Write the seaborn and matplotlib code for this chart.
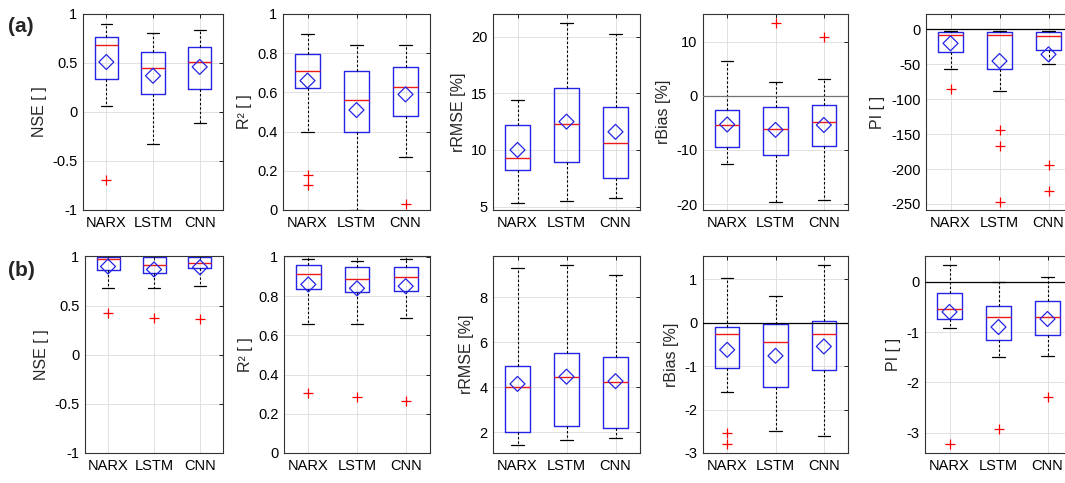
import numpy as np
import pandas as pd
import matplotlib
matplotlib.use("Agg")
import matplotlib.pyplot as plt
import seaborn as sns
from matplotlib.ticker import FormatStrFormatter

models = ["NARX", "LSTM", "CNN"]

# box statistics per model: [lower whisker, Q1, median, Q3, upper whisker]
# ---- row (a)
nse_a_box = [[0.06, 0.34, 0.68, 0.77, 0.90], [-0.33, 0.18, 0.45, 0.61, 0.81], [-0.11, 0.23, 0.51, 0.66, 0.84]]
nse_a_mean = [0.51, 0.37, 0.46]
nse_a_out = [[-0.69], [], []]

r2_a_box = [[0.40, 0.62, 0.71, 0.795, 0.90], [0.0, 0.40, 0.56, 0.71, 0.84], [0.27, 0.48, 0.63, 0.73, 0.84]]
r2_a_mean = [0.66, 0.51, 0.59]
r2_a_out = [[0.18, 0.13], [], [0.03]]

rrmse_a_box = [[5.3, 8.25, 9.3, 12.2, 14.45], [5.5, 8.95, 12.3, 15.45, 21.2], [5.8, 7.5, 10.6, 13.75, 20.25]]
rrmse_a_mean = [10.0, 12.5, 11.6]
rrmse_a_out = [[], [], []]

rbias_a_box = [[-12.6, -9.4, -5.4, -2.6, 6.4], [-19.7, -10.9, -6.2, -2.1, 2.6], [-19.3, -9.2, -4.8, -1.7, 3.1]]
rbias_a_mean = [-5.3, -6.3, -5.4]
rbias_a_out = [[], [13.5], [10.8]]

pi_a_box = [[-56.8, -32.0, -8.0, -3.5, -2.0], [-87.8, -56.8, -8.5, -3.5, -2.0], [-50.1, -29.6, -9.5, -3.5, -2.0]]
pi_a_mean = [-20.0, -45.3, -35.8]
pi_a_out = [[-85.9], [-144.6, -167.0, -247.0], [-194.0, -231.0]]

# ---- row (b)
nse_b_box = [[0.676, 0.858, 0.975, 0.995, 1.0], [0.676, 0.827, 0.909, 0.99, 1.0], [0.695, 0.885, 0.932, 0.99, 1.0]]
nse_b_mean = [0.898, 0.868, 0.89]
nse_b_out = [[0.42], [0.37], [0.36]]

r2_b_box = [[0.659, 0.836, 0.912, 0.961, 0.988], [0.659, 0.819, 0.89, 0.949, 0.98], [0.689, 0.826, 0.899, 0.949, 0.988]]
r2_b_mean = [0.86, 0.84, 0.851]
r2_b_out = [[0.307], [0.287], [0.265]]

rrmse_b_box = [[1.45, 2.0, 4.0, 4.96, 9.3], [1.67, 2.29, 4.47, 5.51, 9.43], [1.75, 2.19, 4.22, 5.36, 8.98]]
rrmse_b_mean = [4.15, 4.47, 4.27]
rrmse_b_out = [[], [], []]

rbias_b_box = [[-1.6, -1.05, -0.27, -0.107, 1.02], [-2.49, -1.48, -0.45, -0.04, 0.6], [-2.6, -1.1, -0.275, 0.04, 1.32]]
rbias_b_mean = [-0.627, -0.765, -0.55]
rbias_b_out = [[-2.54, -2.8], [], []]

pi_b_box = [[-0.92, -0.745, -0.54, -0.23, 0.33], [-1.5, -1.15, -0.71, -0.49, 0.0], [-1.48, -1.05, -0.71, -0.375, 0.1]]
pi_b_mean = [-0.6, -0.9, -0.74]
pi_b_out = [[-3.23], [-2.93], [-2.29]]

ylabels = ["NSE [ ]", "R\u00b2 [ ]", "rRMSE [%]", "rBias [%]", "PI [ ]"]
row_labels = ["(a)", "(b)"]

sns.set_style("white")
plt.rcParams["font.family"] = ["Liberation Sans", "DejaVu Sans"]
plt.rcParams["axes.unicode_minus"] = False

BLUE = "#2424e6"
RED = "#ee1a1a"

W, H = 1065, 483
fig = plt.figure(figsize=(W / 100, H / 100), dpi=100)

panels = [
    # row a
    dict(box=nse_a_box, mean=nse_a_mean, out=nse_a_out, ylim=(-1, 1), ticks=[-1, -0.5, 0, 0.5, 1], zero=None),
    dict(box=r2_a_box, mean=r2_a_mean, out=r2_a_out, ylim=(0, 1), ticks=[0, 0.2, 0.4, 0.6, 0.8, 1], zero=None),
    dict(box=rrmse_a_box, mean=rrmse_a_mean, out=rrmse_a_out, ylim=(4.7, 22), ticks=[5, 10, 15, 20], zero=None),
    dict(box=rbias_a_box, mean=rbias_a_mean, out=rbias_a_out, ylim=(-21.1, 15.1), ticks=[-20, -10, 0, 10], zero="0.45"),
    dict(box=pi_a_box, mean=pi_a_mean, out=pi_a_out, ylim=(-258.6, 22), ticks=[-250, -200, -150, -100, -50, 0], zero="black"),
    # row b
    dict(box=nse_b_box, mean=nse_b_mean, out=nse_b_out, ylim=(-1, 1.005), ticks=[-1, -0.5, 0, 0.5, 1], zero=None),
    dict(box=r2_b_box, mean=r2_b_mean, out=r2_b_out, ylim=(0, 1.005), ticks=[0, 0.2, 0.4, 0.6, 0.8, 1], zero=None),
    dict(box=rrmse_b_box, mean=rrmse_b_mean, out=rrmse_b_out, ylim=(1.08, 9.83), ticks=[2, 4, 6, 8], zero=None),
    dict(box=rbias_b_box, mean=rbias_b_mean, out=rbias_b_out, ylim=(-3, 1.53), ticks=[-3, -2, -1, 0, 1], zero="black"),
    dict(box=pi_b_box, mean=pi_b_mean, out=pi_b_out, ylim=(-3.4, 0.51), ticks=[-3, -2, -1, 0], zero="black"),
]

lefts = [[83, 283, 493, 703, 926], [85, 284, 493, 703, 925]]
widths = [[140, 147, 147, 145, 147], [138, 146, 147, 145, 147]]
tops = [14, 256]
bottoms = [210, 453]

for i, p in enumerate(panels):
    r, c = divmod(i, 5)
    l = lefts[r][c] / W
    b = 1 - bottoms[r] / H
    w = widths[r][c] / W
    h = (bottoms[r] - tops[r]) / H
    ax = fig.add_axes([l, b, w, h])

    recs = [(m, v) for m, vals in zip(models, p["box"]) for v in vals]
    df = pd.DataFrame(recs, columns=["model", "value"])
    sns.boxplot(data=df, x="model", y="value", order=models, whis=(0, 100), width=0.5,
                fill=False, color=BLUE, linewidth=1.0, showfliers=False,
                boxprops=dict(color=BLUE, linewidth=1.0),
                medianprops=dict(color=RED, linewidth=1.0),
                whiskerprops=dict(color="black", linestyle=(0, (2.2, 1.8)), linewidth=0.8),
                capprops=dict(color="black", linewidth=0.9),
                ax=ax)

    mdf = pd.DataFrame({"model": models, "value": p["mean"]})
    sns.scatterplot(data=mdf, x="model", y="value", marker="D", s=58, facecolors="none",
                    edgecolor=BLUE, linewidth=0.9, ax=ax, zorder=6)

    orecs = [(m, v) for m, vals in zip(models, p["out"]) for v in vals]
    if orecs:
        odf = pd.DataFrame(orecs, columns=["model", "value"])
        sns.scatterplot(data=odf, x="model", y="value", marker="+", s=60, color="red",
                        linewidth=0.9, ax=ax, zorder=6)

    if p["zero"] is not None:
        ax.axhline(0, color=p["zero"], linewidth=0.9, zorder=3)

    ax.set_xlim(-0.5, 2.5)
    ax.set_ylim(*p["ylim"])
    ax.set_yticks(p["ticks"])
    ax.yaxis.set_major_formatter(FormatStrFormatter("%g"))
    ax.set_xticks(range(len(models)))
    ax.set_xticklabels(models)
    ax.set_xlabel("")
    ax.set_ylabel(ylabels[c], fontsize=11.5)
    ax.grid(True, color="#dcdcdc", linewidth=0.6)
    ax.set_axisbelow(True)
    ax.tick_params(direction="in", length=3, width=0.6, labelsize=10.5,
                   right=True, top=True, colors="black", pad=4)
    for s in ax.spines.values():
        s.set_color("#333333")
        s.set_linewidth(0.8)
        s.set_visible(True)

fig.text(8 / W, 1 - 26 / H, row_labels[0], fontsize=15, fontweight="bold", va="center")
fig.text(8 / W, 1 - 270 / H, row_labels[1], fontsize=15, fontweight="bold", va="center")

fig.savefig("out.png", dpi=100)
